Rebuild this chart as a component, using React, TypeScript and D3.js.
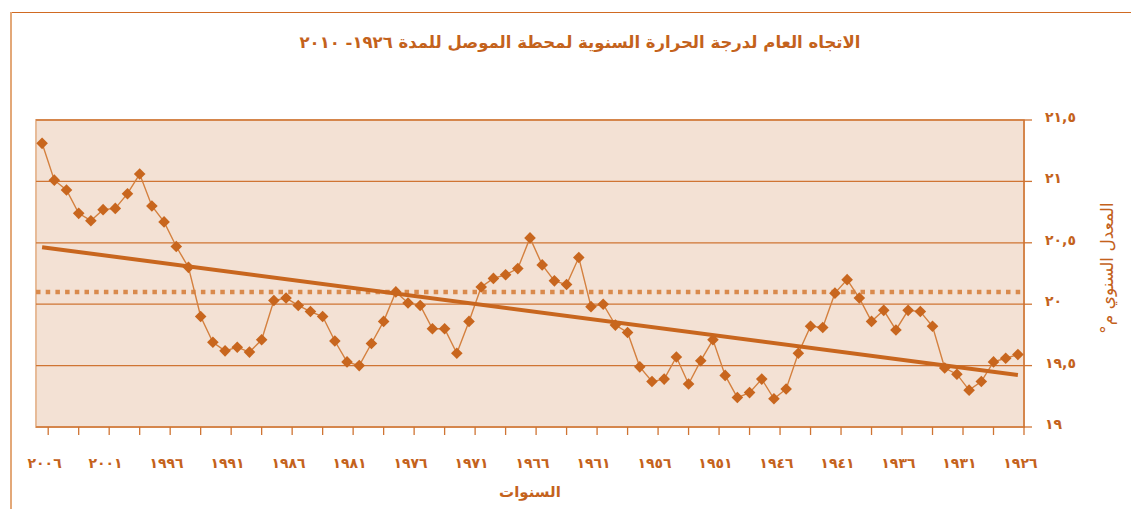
import React from "react";
import * as d3 from "d3";

// Years in chronological order (axis is drawn reversed: newest on the left)
const years: number[] = d3.range(1926, 2007);

// Annual mean temperature (°C), 1926 → 2006
const temperature: number[] = [
  19.59, 19.56, 19.53, 19.37, 19.30, 19.43, 19.48, 19.82, 19.94, 19.95,
  19.79, 19.95, 19.86, 20.05, 20.20, 20.09, 19.81, 19.82, 19.60, 19.31,
  19.23, 19.39, 19.28, 19.24, 19.42, 19.71, 19.54, 19.35, 19.57, 19.39,
  19.37, 19.49, 19.77, 19.83, 20.00, 19.98, 20.38, 20.16, 20.19, 20.32,
  20.54, 20.29, 20.24, 20.21, 20.14, 19.86, 19.60, 19.80, 19.80, 19.99,
  20.01, 20.10, 19.86, 19.68, 19.50, 19.53, 19.70, 19.90, 19.94, 19.99,
  20.05, 20.03, 19.71, 19.61, 19.65, 19.62, 19.69, 19.90, 20.30, 20.47,
  20.67, 20.80, 21.06, 20.90, 20.78, 20.77, 20.68, 20.74, 20.93, 21.01,
  21.31,
];

// Long-term reference level (dotted line)
const referenceLevel: number[] = [20.1];

const yTicks: number[] = [19, 19.5, 20, 20.5, 21, 21.5];
const yTickLabels: string[] = ["١٩", "١٩,٥", "٢٠", "٢٠,٥", "٢١", "٢١,٥"];
const xLabelYears: number[] = d3.range(1926, 2007, 5);

const title = "الاتجاه العام لدرجة الحرارة السنوية لمحطة الموصل للمدة ١٩٢٦- ٢٠١٠";
const xTitle = "السنوات";
const yTitle = "المعدل السنوي م°";

const toArabicDigits = (s: string) =>
  s.replace(/[0-9]/g, (d) => "٠١٢٣٤٥٦٧٨٩"[+d]);

const W = 1131;
const H = 509;
const plot = { left: 36, right: 1024, top: 120, bottom: 427 };

const ORANGE = "#c8661e";
const TEXT = "#c4621c";
const FONT = "'DejaVu Sans', Arial, sans-serif";

export default function App() {
  const x = d3
    .scalePoint<number>()
    .domain([...years].reverse())
    .range([plot.left, plot.right])
    .padding(0.5);
  const y = d3.scaleLinear().domain([19, 21.5]).range([plot.bottom, plot.top]);

  const step = x.step();
  const nTicks = Math.floor((plot.right - plot.left) / (2.5 * step));
  const tickXs = d3.range(0, nTicks + 1).map((k) => plot.right - k * 2.5 * step);

  const pts = years.map((yr, i) => ({ yr, v: temperature[i] }));
  const line = d3
    .line<{ yr: number; v: number }>()
    .x((d) => x(d.yr) as number)
    .y((d) => y(d.v));

  // least-squares linear trend
  const mx = d3.mean(years) as number;
  const my = d3.mean(temperature) as number;
  let sxy = 0;
  let sxx = 0;
  years.forEach((yr, i) => {
    sxy += (yr - mx) * (temperature[i] - my);
    sxx += (yr - mx) * (yr - mx);
  });
  const slope = sxy / sxx;
  const b0 = my - slope * mx;
  const trendPts = [years[0], years[years.length - 1]].map((yr) => ({
    yr,
    v: b0 + slope * yr,
  }));

  const dm = 5.8;
  const diamond = `M0,${-dm}L${dm},0L0,${dm}L${-dm},0Z`;

  return (
    <svg
      width={W}
      height={H}
      style={{ position: "absolute", left: 0, top: 0, background: "#fff" }}
    >
      {/* chart area border */}
      <line x1={11} y1={12.5} x2={W} y2={12.5} stroke="#d06a22" strokeWidth={1.2} />
      <line x1={11} y1={12} x2={11} y2={H} stroke="#e3a878" strokeWidth={2} />

      {/* title */}
      <text
        x={580}
        y={48}
        textAnchor="middle"
        fill={TEXT}
        fontFamily={FONT}
        fontWeight="bold"
        fontSize={16.5}
        direction="rtl"
      >
        {title}
      </text>

      {/* plot background */}
      <rect
        x={plot.left}
        y={plot.top}
        width={plot.right - plot.left}
        height={plot.bottom - plot.top}
        fill="#f3e1d4"
        stroke="#e7bb98"
        strokeWidth={2}
      />

      {/* gridlines */}
      {yTicks.slice(1).map((t) => (
        <line
          key={t}
          x1={plot.left}
          x2={plot.right}
          y1={y(t)}
          y2={y(t)}
          stroke="#cf7433"
          strokeWidth={1.3}
        />
      ))}

      {/* x axis */}
      <line
        x1={plot.left}
        x2={plot.right + 1}
        y1={plot.bottom}
        y2={plot.bottom}
        stroke="#cf7433"
        strokeWidth={1.5}
      />
      {tickXs.map((tx, i) => (
        <line
          key={i}
          x1={tx}
          x2={tx}
          y1={plot.bottom}
          y2={plot.bottom + 8}
          stroke="#cf7433"
          strokeWidth={1.3}
        />
      ))}
      {xLabelYears.map((yr) => (
        <text
          key={yr}
          x={(x(yr) as number) + 2.5}
          y={468}
          textAnchor="middle"
          fill={TEXT}
          fontFamily={FONT}
          fontWeight="bold"
          fontSize={14}
          letterSpacing={5.5}
        >
          {toArabicDigits(String(yr))}
        </text>
      ))}
      <text
        x={530}
        y={497}
        textAnchor="middle"
        fill={TEXT}
        fontFamily={FONT}
        fontWeight="bold"
        fontSize={15}
      >
        {xTitle}
      </text>

      {/* y axis (right) */}
      <line
        x1={plot.right}
        x2={plot.right}
        y1={plot.top}
        y2={plot.bottom}
        stroke="#cf7433"
        strokeWidth={1.5}
      />
      {yTicks.map((t, i) => (
        <g key={t}>
          <line
            x1={plot.right}
            x2={plot.right + 8}
            y1={y(t)}
            y2={y(t)}
            stroke="#cf7433"
            strokeWidth={1.3}
          />
          <text
            x={1045}
            y={y(t) + 2}
            fill={TEXT}
            fontFamily={FONT}
            fontWeight="bold"
            fontSize={14}
            letterSpacing={6}
          >
            {yTickLabels[i]}
          </text>
        </g>
      ))}
      <text
        transform={`translate(1113,268) rotate(-90)`}
        textAnchor="middle"
        fill={TEXT}
        fontFamily={FONT}
        fontSize={17}
        direction="rtl"
      >
        {yTitle}
      </text>

      {/* reference dotted line */}
      {referenceLevel.map((r) => (
        <line
          key={r}
          x1={plot.left}
          x2={plot.right}
          y1={y(r)}
          y2={y(r)}
          stroke="#d98a4c"
          strokeWidth={4.5}
          strokeDasharray="4.5 5.2"
        />
      ))}

      {/* data line */}
      <path d={line(pts) as string} fill="none" stroke="#d4803f" strokeWidth={1.4} />

      {/* trend line */}
      <path d={line(trendPts) as string} fill="none" stroke={ORANGE} strokeWidth={4} />

      {/* markers */}
      {pts.map((d) => (
        <path
          key={d.yr}
          d={diamond}
          transform={`translate(${x(d.yr)},${y(d.v)})`}
          fill={ORANGE}
        />
      ))}
    </svg>
  );
}
